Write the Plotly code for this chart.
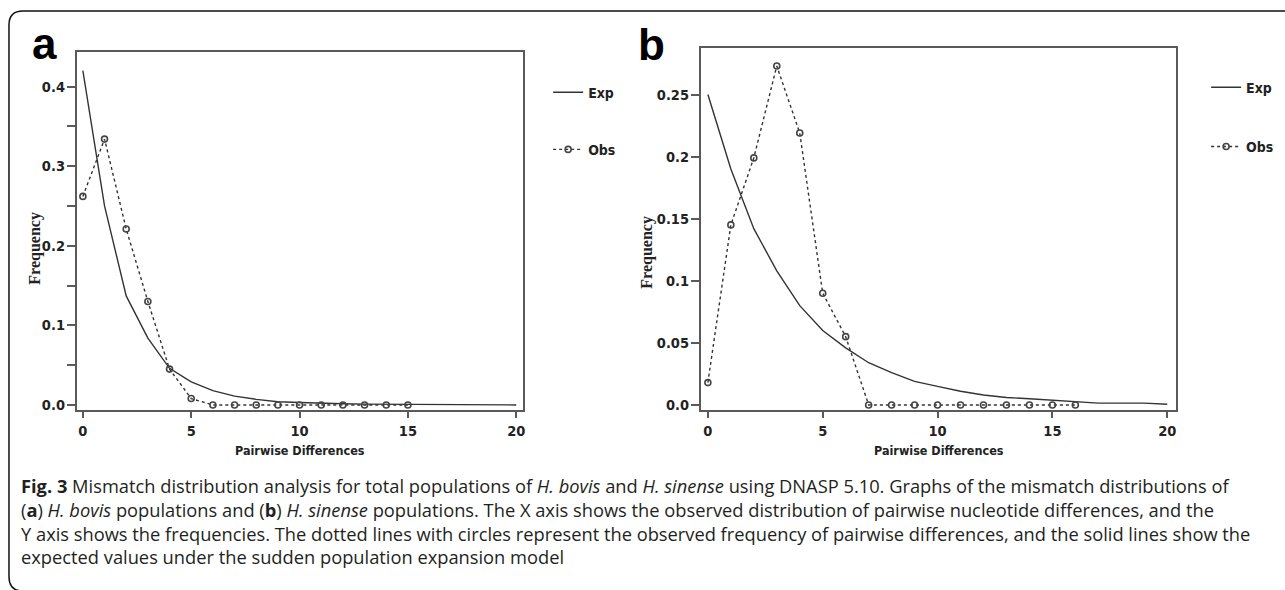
import plotly.graph_objects as go

W, H = 1285, 590

# ---------------- data ----------------
x_exp = list(range(0, 21))
exp_a = [0.42, 0.25, 0.137, 0.084, 0.046, 0.029, 0.018, 0.011, 0.007, 0.004, 0.003,
         0.002, 0.0015, 0.001, 0.0008, 0.0005, 0.0003, 0.0002, 0.0001, 0.0001, 0.0]
x_obs_a = list(range(0, 16))
obs_a = [0.262, 0.334, 0.221, 0.13, 0.045, 0.008, 0, 0, 0, 0, 0, 0, 0, 0, 0, 0]

exp_b = [0.25, 0.19, 0.142, 0.108, 0.08, 0.06, 0.046, 0.034, 0.026, 0.019, 0.015,
         0.011, 0.008, 0.006, 0.005, 0.004, 0.003, 0.0015, 0.0015, 0.0015, 0.0005]
x_obs_b = list(range(0, 17))
obs_b = [0.018, 0.145, 0.199, 0.273, 0.219, 0.09, 0.055, 0, 0, 0, 0, 0, 0, 0, 0, 0, 0]

x_ticks = [0, 5, 10, 15, 20]
y_ticks_a = [0.0, 0.1, 0.2, 0.3, 0.4]
y_ticktext_a = ["0.0", "0.1", "0.2", "0.3", "0.4"]
y_minor_a = [0.05, 0.15, 0.25, 0.35]
y_ticks_b = [0.0, 0.05, 0.1, 0.15, 0.2, 0.25]
y_ticktext_b = ["0.0", "0.05", "0.1", "0.15", "0.2", "0.25"]

caption_lines = [
    "<b>Fig. 3</b> Mismatch distribution analysis for total populations of <i>H. bovis</i> and <i>H. sinense</i> using DNASP 5.10. Graphs of the mismatch distributions of",
    "(<b>a</b>) <i>H. bovis</i> populations and (<b>b</b>) <i>H. sinense</i> populations. The X axis shows the observed distribution of pairwise nucleotide differences, and the",
    "Y axis shows the frequencies. The dotted lines with circles represent the observed frequency of pairwise differences, and the solid lines show the",
    "expected values under the sudden population expansion model",
]

# ---------------- helpers ----------------
def px(x):
    return x / W

def py(y):
    return 1 - y / H

NARROW = "DejaVu Sans Condensed, DejaVu Sans, sans-serif"
SERIF = "Liberation Serif, Times New Roman, serif"
LINE_C = "#333333"
FRAME_C = "#5a5a5a"

fig = go.Figure()

fig.add_trace(go.Scatter(x=x_exp, y=exp_a, mode="lines", name="Exp",
                         line=dict(color=LINE_C, width=1.4),
                         xaxis="x", yaxis="y", legend="legend", legendgroup="ea"))
fig.add_trace(go.Scatter(x=x_obs_a, y=obs_a, mode="lines+markers", name="Obs",
                         line=dict(color=LINE_C, width=1.4, dash="3px,3px"),
                         marker=dict(symbol="circle-open", size=6, color="#444444",
                                     line=dict(width=1.6)),
                         xaxis="x", yaxis="y", legend="legend", legendgroup="oa"))
fig.add_trace(go.Scatter(x=x_exp, y=exp_b, mode="lines", name="Exp",
                         line=dict(color=LINE_C, width=1.4),
                         xaxis="x2", yaxis="y2", legend="legend2", legendgroup="eb"))
fig.add_trace(go.Scatter(x=x_obs_b, y=obs_b, mode="lines+markers", name="Obs",
                         line=dict(color=LINE_C, width=1.4, dash="3px,3px"),
                         marker=dict(symbol="circle-open", size=6, color="#444444",
                                     line=dict(width=1.6)),
                         xaxis="x2", yaxis="y2", legend="legend2", legendgroup="ob"))

tickfont = dict(family=NARROW, size=14.5, color="#222222", weight=700)

common_x = dict(showline=True, linecolor=FRAME_C, linewidth=2, mirror=True,
                ticks="outside", ticklen=6, tickwidth=1.5, tickcolor=FRAME_C,
                tickvals=x_ticks, tickfont=tickfont, showgrid=False, zeroline=False,
                ticklabelstandoff=1)
common_y = dict(showline=True, linecolor=FRAME_C, linewidth=2, mirror=True,
                ticks="outside", ticklen=8, tickwidth=1.5, tickcolor=FRAME_C,
                tickfont=tickfont, showgrid=False, zeroline=False,
                ticklabelstandoff=-1)

legfont = dict(family=NARROW, size=14, color="#222222", weight=700)

fig.update_layout(
    width=W, height=H,
    margin=dict(l=0, r=0, t=0, b=0),
    paper_bgcolor="white", plot_bgcolor="white",
    xaxis=dict(domain=[px(77), px(524)], range=[-0.276, 20.32], anchor="y", **common_x),
    yaxis=dict(domain=[py(412), py(52)], range=[-0.00625, 0.44375], anchor="x",
               tickvals=y_ticks_a, ticktext=y_ticktext_a,
               minor=dict(tickvals=y_minor_a, ticks="outside", ticklen=8,
                          tickwidth=1.5, tickcolor=FRAME_C),
               **common_y),
    xaxis2=dict(domain=[px(702), px(1178)], range=[-0.304, 20.39], anchor="y2", **common_x),
    yaxis2=dict(domain=[py(412), py(48)], range=[-0.004, 0.2877], anchor="x2",
                tickvals=y_ticks_b, ticktext=y_ticktext_b, **common_y),
    legend=dict(x=px(549), y=py(77), xanchor="left", yanchor="top",
                font=legfont, bgcolor="rgba(0,0,0,0)", tracegroupgap=36,
                itemwidth=30, traceorder="grouped"),
    legend2=dict(x=px(1208), y=py(72), xanchor="left", yanchor="top",
                 font=legfont, bgcolor="rgba(0,0,0,0)", tracegroupgap=38,
                 itemwidth=30, traceorder="grouped"),
    showlegend=True,
)

ann = []
LETTER_FONT = dict(family="Liberation Sans, Arial, sans-serif", size=44, color="black")
ann.append(dict(text="<b>a</b>", x=px(30), y=py(17), xref="paper", yref="paper",
                xanchor="left", yanchor="top", showarrow=False, font=LETTER_FONT))
ann.append(dict(text="<b>b</b>", x=px(637), y=py(18), xref="paper", yref="paper",
                xanchor="left", yanchor="top", showarrow=False, font=LETTER_FONT))
for xc in (300, 940):
    ann.append(dict(text="<b>Pairwise Differences</b>", x=px(xc), y=py(453), xref="paper", yref="paper",
                    xanchor="center", yanchor="middle", showarrow=False,
                    font=dict(family=NARROW, size=12.5, color="#222222")))
for xc, yc in ((35, 249), (648, 253)):
    ann.append(dict(text="<b>Frequency</b>", x=px(xc), y=py(yc), xref="paper", yref="paper",
                    xanchor="center", yanchor="middle", showarrow=False, textangle=-90,
                    font=dict(family=SERIF, size=16, color="#222222")))
ann.append(dict(text="<br>".join(caption_lines), x=px(19), y=py(524), xref="paper", yref="paper",
                xanchor="left", yanchor="middle", align="left", showarrow=False,
                font=dict(family="Open Sans, Noto Sans, sans-serif", size=18.3, color="#231f20")))
fig.update_layout(annotations=ann)

r = 14
path = (f"M {px(1300)},{py(11)} L {px(9 + r)},{py(11)} "
        f"Q {px(9)},{py(11)} {px(9)},{py(11 + r)} "
        f"L {px(9)},{py(594 - r)} Q {px(9)},{py(594)} {px(9 + r)},{py(594)} "
        f"L {px(1300)},{py(594)}")
fig.add_shape(type="path", path=path, xref="paper", yref="paper",
              line=dict(color="#111111", width=1.5))

fig.write_html("out.html", config={"displayModeBar": False},
               post_script="document.body.style.margin='0';document.body.style.overflow='hidden';")
